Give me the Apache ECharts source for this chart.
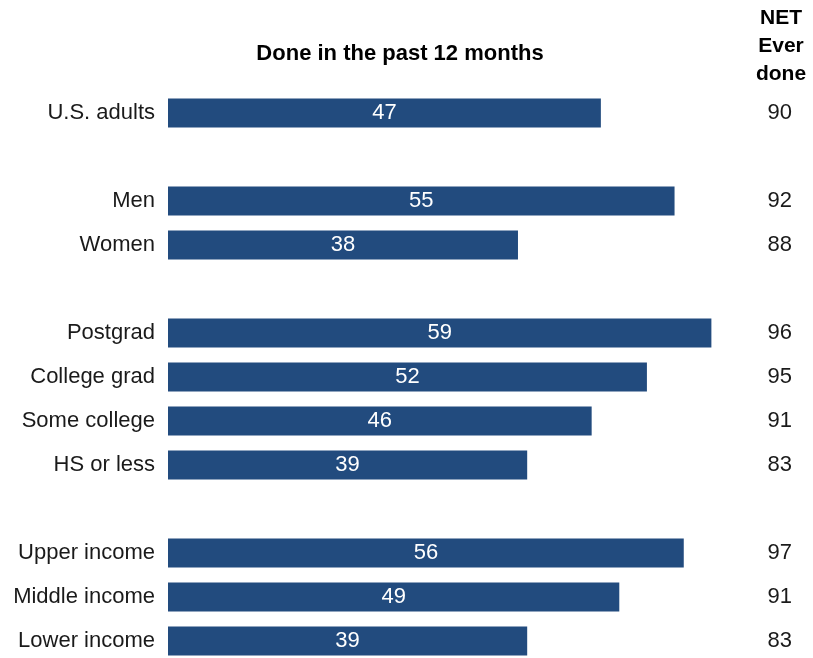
<!DOCTYPE html>
<html>
<head>
<meta charset="utf-8">
<script src="https://cdn.jsdelivr.net/npm/echarts@6/dist/echarts.min.js"></script>
<style>html,body{margin:0;padding:0;background:#fff;}#c{width:813px;height:658px;}</style>
</head>
<body>
<div id="c"></div>
<script>
const categories = ['U.S. adults', '', 'Men', 'Women', '', 'Postgrad', 'College grad', 'Some college', 'HS or less', '', 'Upper income', 'Middle income', 'Lower income'];
const past12 = [47, null, 55, 38, null, 59, 52, 46, 39, null, 56, 49, 39];
const everDone = [90, null, 92, 88, null, 96, 95, 91, 83, null, 97, 91, 83];

const chart = echarts.init(document.getElementById('c'), null, {renderer: 'canvas'});
const font = 'Liberation Sans, Arial, sans-serif';
chart.setOption({
  animation: false,
  title: [
    {text: 'Done in the past 12 months', left: 400, top: 43, textAlign: 'center', padding: 0,
     textStyle: {fontFamily: font, fontWeight: 'bold', fontSize: 22, color: '#000'}},
    {text: 'NET\nEver\ndone', left: 781, top: 4, textAlign: 'center', padding: 0,
     textStyle: {fontFamily: font, fontWeight: 'bold', fontSize: 21, lineHeight: 28, color: '#000'}}
  ],
  grid: {left: 168, top: 113, width: 552.6, height: 528, containLabel: false},
  xAxis: {type: 'value', min: 0, max: 60, show: false},
  yAxis: [
    {type: 'category', data: categories, inverse: true, boundaryGap: false,
     axisLine: {show: false}, axisTick: {show: false}, splitLine: {show: false},
     axisLabel: {fontFamily: font, fontSize: 22, color: '#1a1a1a', margin: 13, interval: 0}},
    {type: 'category', data: everDone.map(v => v == null ? '' : String(v)), inverse: true, position: 'right', boundaryGap: false,
     axisLine: {show: false}, axisTick: {show: false}, splitLine: {show: false},
     axisLabel: {fontFamily: font, fontSize: 22, color: '#1a1a1a', margin: 47, interval: 0}}
  ],
  series: [{
    type: 'bar', data: past12, barWidth: 29, yAxisIndex: 0,
    itemStyle: {color: '#224B7E'},
    label: {show: true, position: 'inside', color: '#fff', fontFamily: font, fontSize: 22}
  }]
});
</script>
</body>
</html>
